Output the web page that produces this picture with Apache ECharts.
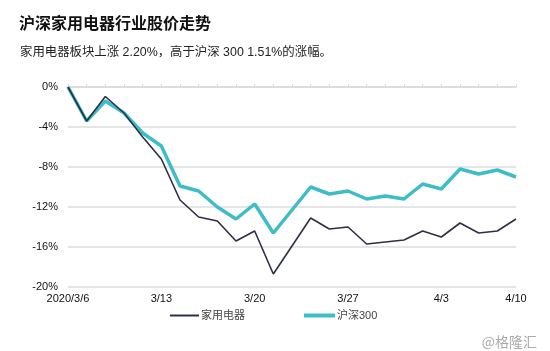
<!DOCTYPE html>
<html><head><meta charset="utf-8">
<script src="https://cdn.jsdelivr.net/npm/echarts@6/dist/echarts.min.js"></script>
<style>html,body{margin:0;padding:0;background:#fff}#c{width:550px;height:351px}</style>
</head><body><div id="c"></div>
<script>
const dates = ['2020/3/6','3/9','3/10','3/11','3/12','3/13','3/16','3/17','3/18','3/19','3/20','3/23','3/24','3/25','3/26','3/27','3/30','3/31','4/1','4/2','4/3','4/7','4/8','4/9','4/10'];
const labelIndices = [0,5,10,15,20,24];
const appliances = [0,-3.4,-0.95,-2.6,-5.0,-7.2,-11.3,-13.0,-13.4,-15.4,-14.4,-18.7,-15.9,-13.1,-14.2,-14.0,-15.7,-15.5,-15.3,-14.4,-15.0,-13.6,-14.6,-14.4,-13.2];
const hs300 = [0,-3.4,-1.4,-2.6,-4.6,-5.9,-9.9,-10.4,-12.0,-13.2,-11.7,-14.6,-12.3,-10.0,-10.7,-10.4,-11.2,-10.9,-11.2,-9.7,-10.2,-8.2,-8.7,-8.3,-9.0];
const yTicks = {min:-20, max:0, interval:4};
const FONT = '"Liberation Sans", "Noto Sans CJK SC", sans-serif';
const CJK = '"Noto Sans CJK SC", sans-serif';
const C_APP = '#2D3044', C_HS = '#3DBDC7';

const chart = echarts.init(document.getElementById('c'), null, {renderer:'canvas'});
chart.setOption({
  animation:false,
  textStyle:{fontFamily:FONT},
  title:[
    {text:'沪深家用电器行业股价走势', left:14, top:10, textStyle:{fontSize:16, fontWeight:'bold', color:'#111', fontFamily:CJK}},
    {text:'家用电器板块上涨 2.20%，高于沪深 300 1.51%的涨幅。', left:15, top:41, textStyle:{fontSize:12.4, fontWeight:'normal', color:'#222', fontFamily:FONT}},
    {text:'@格隆汇', right:8, top:330, textStyle:{fontSize:14, fontWeight:'normal', color:'#aaa', fontFamily:CJK}}
  ],
  legend:[
    {left:170, top:310, padding:0, itemWidth:29, itemHeight:2, itemGap:0, icon:'rect',
     textStyle:{fontSize:11, color:'#444', fontFamily:FONT, padding:[0,0,0,-3]},
     data:['家用电器']},
    {left:304, top:310, padding:0, itemWidth:31, itemHeight:4, itemGap:0, icon:'rect',
     textStyle:{fontSize:11, color:'#444', fontFamily:FONT, padding:[0,0,0,-3]},
     data:['沪深300']}
  ],
  grid:{left:68, right:34, top:87, bottom:64},
  xAxis:[
    {type:'category', data:dates, boundaryGap:false, position:'bottom',
     axisLine:{show:false}, axisTick:{show:false},
     axisLabel:{interval:(i)=>labelIndices.includes(i), margin:6, fontSize:11, color:'#111', fontFamily:FONT}},
    {type:'category', data:dates, boundaryGap:false, position:'top',
     axisLine:{show:true, lineStyle:{color:'#d9d9d9', width:1.5}},
     axisTick:{show:true, length:3, interval:0, lineStyle:{color:'#d9d9d9', width:1}},
     axisLabel:{show:false}}
  ],
  yAxis:{type:'value', min:yTicks.min, max:yTicks.max, interval:yTicks.interval,
    axisLine:{show:false}, axisTick:{show:false},
    axisLabel:{formatter:'{value}%', margin:10, fontSize:11, color:'#111', fontFamily:FONT},
    splitLine:{lineStyle:{color:'#dcdcdc', width:1.5}}},
  series:[
    {name:'沪深300', type:'line', data:hs300, symbol:'none', z:2,
     lineStyle:{color:C_HS, width:3.5}, itemStyle:{color:C_HS}},
    {name:'家用电器', type:'line', data:appliances, symbol:'none', z:3,
     lineStyle:{color:C_APP, width:1.6}, itemStyle:{color:C_APP}}
  ]
});
</script></body></html>
